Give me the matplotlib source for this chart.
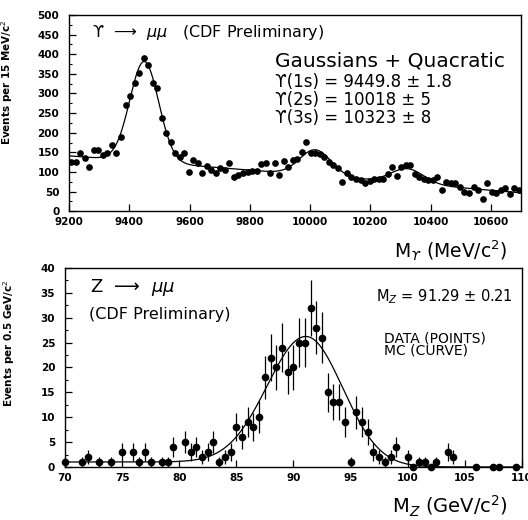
import numpy as np
import matplotlib
matplotlib.use("Agg")
import matplotlib.pyplot as plt

# Upsilon -> mu mu, 15 MeV/c^2 bins from 9200 MeV/c^2
ups_start = 9200.0
ups_bin = 15.0
ups_counts = [125, 125, 148, 135, 112, 155, 155, 143, 148, 168,
              148, 189, 270, 293, 327, 352, 390, 372, 327, 313,
              237, 199, 176, 148, 138, 148, 100, 130, 122, 97,
              115, 105, 97, 110, 105, 122, 87, 92, 97, 100,
              103, 103, 120, 123, 98, 122, 92, 128, 113, 130,
              132, 151, 177, 149, 147, 145, 137, 126, 117, 109,
              75, 96, 87, 83, 79, 71, 78, 81, 83, 81,
              95, 113, 89, 113, 117, 117, 94, 87, 83, 79,
              80, 87, 55, 75, 72, 72, 62, 49, 45, 62,
              54, 30, 71, 49, 47, 54, 60, 43, 58, 54]
ups_masses = [9449.8, 10018.0, 10323.0]
ups_errs = [1.8, 5, 8]
ups_sigmas = [48.0, 52.0, 54.0]

# Z -> mu mu, 0.5 GeV/c^2 bins
z_mass = [70.0, 71.5, 72.0, 73.0, 74.0, 75.0, 76.0, 76.5, 77.0, 77.5,
          78.5, 79.0, 79.5, 80.5, 81.0, 81.5, 82.0, 82.5, 83.0, 83.5,
          84.0, 84.5, 85.0, 85.5, 86.0, 86.5, 87.0, 87.5, 88.0, 88.5,
          89.0, 89.5, 90.0, 90.5, 91.0, 91.5, 92.0, 92.5, 93.0, 93.5,
          94.0, 94.5, 95.0, 95.5, 96.0, 96.5, 97.0, 97.5, 98.0, 98.5,
          99.0, 100.0, 100.5, 101.0, 101.5, 102.0, 102.5, 103.5, 104.0,
          106.0, 107.5, 108.0, 109.5]
z_counts = [1, 1, 2, 1, 1, 3, 3, 1, 3, 1,
            1, 1, 4, 5, 3, 4, 2, 3, 5, 1,
            2, 3, 8, 6, 9, 8, 10, 18, 22, 20,
            24, 19, 20, 25, 25, 32, 28, 26, 15, 13,
            13, 9, 1, 11, 9, 7, 3, 2, 1, 2,
            4, 2, 0, 1, 1, 0, 1, 3, 2,
            0, 0, 0, 0]
z_fit_mass = 91.29
z_fit_err = 0.21

# Monte Carlo line shape
mc_mean = 91.1
mc_height = 25.3
mc_sig_lo = 3.4
mc_sig_hi = 3.2
mc_bkg = 1.0
mc_bkg_edge = 95.0
mc_bkg_width = 1.5

plt.rcParams['font.family'] = 'DejaVu Sans'
plt.rcParams['mathtext.fontset'] = 'dejavusans'

fig = plt.figure(figsize=(5.28, 5.20), dpi=100)
ax1 = fig.add_axes([0.1307, 0.594, 0.856, 0.377])
ax2 = fig.add_axes([0.123, 0.102, 0.8655, 0.3827])

# ---- upsilon panel ----
ups_x = ups_start + ups_bin * (np.arange(len(ups_counts)) + 0.5)
ups_y = np.array(ups_counts, dtype=float)

def gauss(x, m, s):
    return np.exp(-0.5 * ((x - m) / s) ** 2)

# gaussians + quadratic, amplitudes fitted by least squares
t = (ups_x - 9950.0) / 750.0
cols = [np.ones_like(t), t, t ** 2] + [gauss(ups_x, m, s) for m, s in zip(ups_masses, ups_sigmas)]
coef, *_ = np.linalg.lstsq(np.column_stack(cols), ups_y, rcond=None)
xf = np.linspace(9200, 10700, 600)
tf = (xf - 9950.0) / 750.0
colsf = [np.ones_like(tf), tf, tf ** 2] + [gauss(xf, m, s) for m, s in zip(ups_masses, ups_sigmas)]
yf = np.column_stack(colsf) @ coef

ax1.plot(xf, yf, color='black', lw=0.9)
ax1.plot(ups_x, ups_y, 'o', color='black', ms=3.8)
ax1.set_xlim(9200, 10700)
ax1.set_ylim(0, 500)
ax1.set_xticks(np.arange(9200, 10601, 200))
ax1.set_yticks(np.arange(0, 501, 50))
ax1.set_yticks(np.arange(0, 501, 25), minor=True)
ax1.set_ylabel('Events per 15 MeV/c$^2$', fontsize=7.5, fontweight='bold')
ax1.yaxis.set_label_coords(-0.12, 0.66)

ax1.text(0.05, 0.91, 'ϒ  ⟶  $\\mu\\mu$   (CDF Preliminary)', transform=ax1.transAxes,
         fontsize=11.5, va='center', ha='left')
ax1.text(0.455, 0.765, 'Gaussians + Quacratic', transform=ax1.transAxes,
         fontsize=14.5, va='center', ha='left')
for k, (name, m, e) in enumerate(zip(['1s', '2s', '3s'], ups_masses, ups_errs)):
    mtxt = f'{m:.1f}' if k == 0 else f'{m:.0f}'
    ax1.text(0.455, 0.66 - 0.093 * k, f'ϒ({name}) = {mtxt} ± {e}', transform=ax1.transAxes,
             fontsize=12, va='center', ha='left')
ax1.text(0.97, -0.2, 'M$_{ϒ}$ (MeV/c$^2$)', transform=ax1.transAxes,
         fontsize=13.5, va='center', ha='right')

# ---- Z panel ----
z_x = np.array(z_mass)
z_n = np.array(z_counts, dtype=float)
ax2.errorbar(z_x, z_n, yerr=np.sqrt(z_n), fmt='o', color='black', ms=4.5,
             elinewidth=0.9, capsize=0, clip_on=False)

xm = np.linspace(70, 110, 500)
sig = np.where(xm < mc_mean, mc_sig_lo, mc_sig_hi)
ym = mc_height * np.exp(-0.5 * ((xm - mc_mean) / sig) ** 2) \
    + mc_bkg / (1.0 + np.exp((xm - mc_bkg_edge) / mc_bkg_width))
ax2.plot(xm, ym, color='black', lw=0.9)

ax2.set_xlim(70, 110)
ax2.set_ylim(0, 40)
ax2.set_xticks(np.arange(70, 111, 5))
ax2.set_yticks(np.arange(0, 41, 5))
ax2.set_yticks(np.arange(0, 41, 2.5), minor=True)
ax2.set_ylabel('Events per 0.5 GeV/c$^2$', fontsize=7.5, fontweight='bold')
ax2.yaxis.set_label_coords(-0.105, 0.62)

ax2.text(0.055, 0.9, 'Z  ⟶  $\\mu\\mu$', transform=ax2.transAxes,
         fontsize=13, va='center', ha='left')
ax2.text(0.053, 0.765, '(CDF Preliminary)', transform=ax2.transAxes,
         fontsize=11.5, va='center', ha='left')
ax2.text(0.68, 0.855, f'M$_{{Z}}$ = {z_fit_mass:.2f} ± {z_fit_err:.2f}', transform=ax2.transAxes,
         fontsize=10.5, va='center', ha='left')
ax2.text(0.698, 0.648, 'DATA (POINTS)', transform=ax2.transAxes,
         fontsize=10, va='center', ha='left')
ax2.text(0.698, 0.585, 'MC (CURVE)', transform=ax2.transAxes,
         fontsize=10, va='center', ha='left')
ax2.text(0.97, -0.2, 'M$_{Z}$ (GeV/c$^2$)', transform=ax2.transAxes,
         fontsize=14, va='center', ha='right')

for ax in (ax1, ax2):
    for sp in ax.spines.values():
        sp.set_linewidth(1.0)
    ax.tick_params(which='major', direction='in', length=5, width=0.9)
    ax.tick_params(which='minor', direction='in', length=2.5, width=0.8)
    ax.tick_params(axis='y', pad=7)
    ax.tick_params(axis='x', pad=4)
    for lab in ax.get_xticklabels() + ax.get_yticklabels():
        lab.set_fontsize(7.5)
        lab.set_fontweight('bold')

fig.savefig('out.png', dpi=100)
